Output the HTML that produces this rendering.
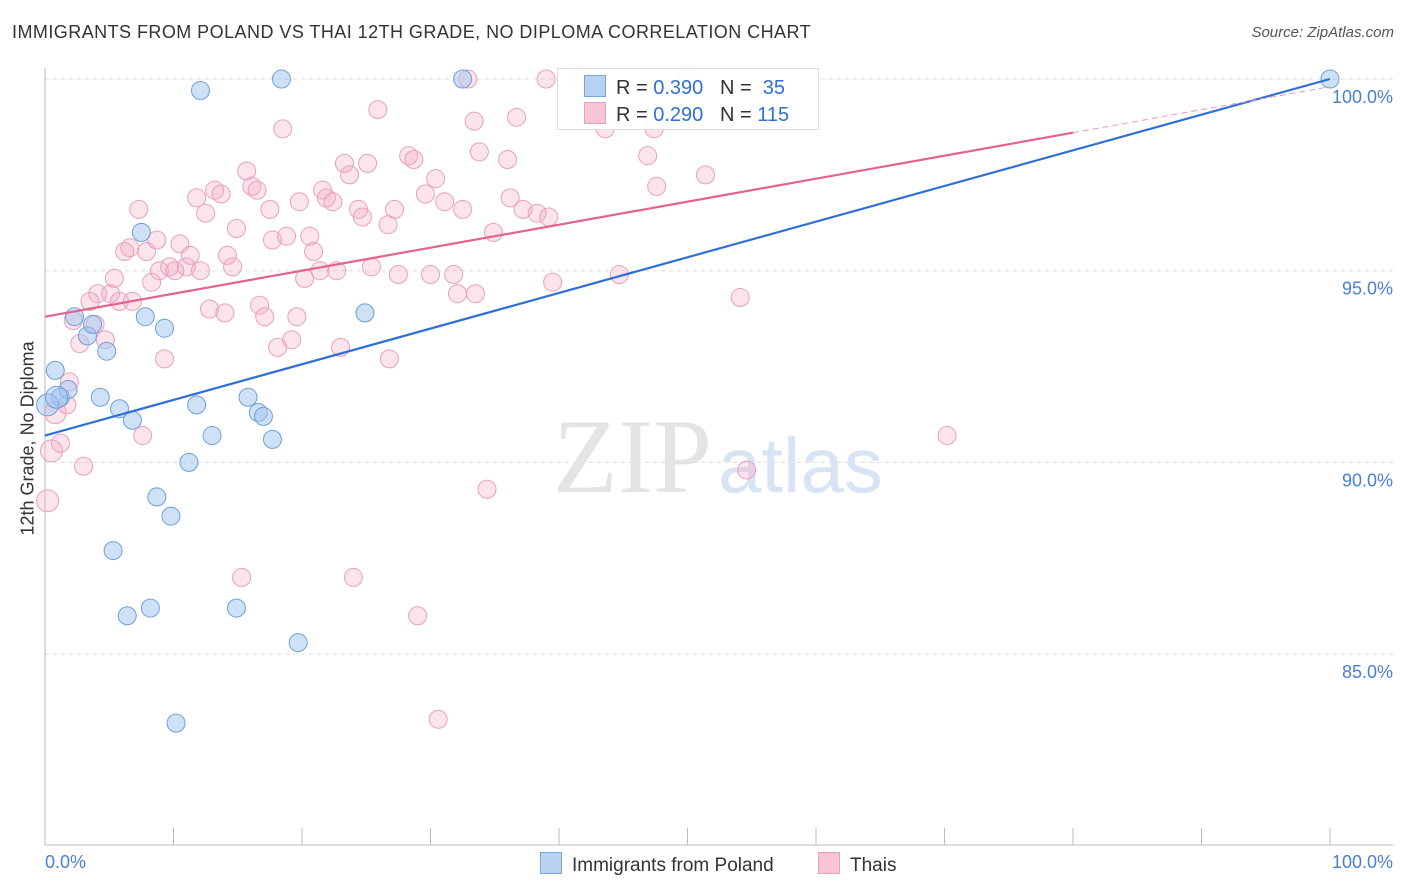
<!DOCTYPE html>
<html><head><meta charset="utf-8">
<style>
body{margin:0;background:#fff;font-family:"Liberation Sans",sans-serif;}
#wrap{position:relative;width:1406px;height:892px;overflow:hidden;}
.t{position:absolute;white-space:nowrap;}
</style></head>
<body>
<div id="wrap">
<div class="t" style="left:12px;top:22px;font-size:18px;color:#333;letter-spacing:0.45px;">IMMIGRANTS FROM POLAND VS THAI 12TH GRADE, NO DIPLOMA CORRELATION CHART</div>
<div class="t" style="right:12px;top:24px;font-size:15px;color:#555;font-style:italic;">Source: ZipAtlas.com</div>
<div class="t" style="left:-52px;top:445px;font-size:18px;color:#333;transform:rotate(-90deg);width:160px;text-align:center;">12th Grade, No Diploma</div>
<svg id="plot" width="1406" height="892" style="position:absolute;left:0;top:0"></svg>
</div>
<script>
const blueX=[0.8,1.2,1.8,2.3,3.3,3.7,4.3,4.8,5.3,5.8,6.4,6.8,7.5,7.8,8.2,8.7,9.3,9.8,10.2,11.2,11.8,12.1,13.0,14.9,15.8,16.6,17.0,17.7,18.4,19.7,24.9,32.5,100,0.2,0.9];
const blueY=[92.4,91.7,91.9,93.8,93.3,93.6,91.7,92.9,87.7,91.4,86.0,91.1,96.0,93.8,86.2,89.1,93.5,88.6,83.2,90.0,91.5,99.7,90.7,86.2,91.7,91.3,91.2,90.6,100,85.3,93.9,100,100,91.5,91.7];
const pinkX=[0.2,0.5,0.8,1.2,1.7,1.9,2.2,2.7,3.0,3.5,3.9,4.1,4.7,5.1,5.4,5.8,6.2,6.6,6.8,7.3,7.6,7.9,8.3,8.7,8.9,9.3,9.7,10.1,10.5,11.0,11.3,11.8,12.1,12.5,12.8,13.2,13.7,14.0,14.2,14.6,14.9,15.3,15.7,16.1,16.5,16.7,17.1,17.5,17.7,18.1,18.5,18.8,19.2,19.6,19.8,20.2,20.6,20.9,21.4,21.6,21.9,22.4,22.7,23.0,23.3,23.7,24.0,24.4,24.7,25.1,25.4,25.9,26.7,26.8,27.2,27.5,28.3,28.7,29.0,29.6,30.0,30.4,30.6,31.1,31.8,32.1,32.5,32.9,33.4,33.5,33.8,34.4,34.9,36.0,36.2,36.7,37.2,38.3,39.0,39.2,39.5,41.5,43.6,44.7,46.9,47.4,47.6,50.0,51.4,54.1,54.6,70.2];
const pinkY=[89.0,90.3,91.3,90.5,91.5,92.1,93.7,93.1,89.9,94.2,93.6,94.4,93.2,94.4,94.8,94.2,95.5,95.6,94.2,96.6,90.7,95.5,94.7,95.8,95.0,92.7,95.1,95.0,95.7,95.1,95.4,96.9,95.0,96.5,94.0,97.1,97.0,93.9,95.4,95.1,96.1,87.0,97.6,97.2,97.1,94.1,93.8,96.6,95.8,93.0,98.7,95.9,93.2,93.8,96.8,94.8,95.9,95.5,95.0,97.1,96.9,96.8,95.0,93.0,97.8,97.5,87.0,96.6,96.4,97.8,95.1,99.2,96.2,92.7,96.6,94.9,98.0,97.9,86.0,97.0,94.9,97.4,83.3,96.8,94.9,94.4,96.6,100,98.9,94.4,98.1,89.3,96.0,97.9,96.9,99.0,96.6,96.5,100,96.4,94.7,100,98.7,94.9,98.0,98.7,97.2,100,97.5,94.3,89.8,90.7];
const blueTrend=[90.7,100];
const pinkTrend=[93.8,99.8];
const yTicks=[100,95,90,85];
const yTickLabels=["100.0%","95.0%","90.0%","85.0%"];

const X0=45,X1=1330,YT=79,PXPER=38.34;
const sx=v=>X0+(X1-X0)*v/100;
const sy=v=>YT+(100-v)*PXPER;
const svg=document.getElementById('plot');
const NS='http://www.w3.org/2000/svg';
function mk(tag,attrs){const e=document.createElementNS(NS,tag);for(const k in attrs)e.setAttribute(k,attrs[k]);svg.appendChild(e);return e;}

yTicks.forEach((t,i)=>{
  const g=mk('line',{x1:X0,x2:1393,y1:sy(t),y2:sy(t),stroke:'#dcdcdc','stroke-dasharray':'4,4','stroke-width':1});
  
  
  const l=mk('text',{x:1393,y:sy(t)+24,'text-anchor':'end','font-size':18,fill:'#4a7fd4','font-family':'Liberation Sans, sans-serif'});
  l.textContent=yTickLabels[i];
  
  
});
let a=mk('line',{x1:X0,x2:X0,y1:68,y2:845,stroke:'#bbb','stroke-width':1});


a=mk('line',{x1:X0,x2:1393,y1:845,y2:845,stroke:'#bbb','stroke-width':1});


for(let i=0;i<=10;i++){
  const tk=mk('line',{x1:sx(i*10),x2:sx(i*10),y1:828,y2:845,stroke:'#bbb','stroke-width':1});
  
  
}
let w=mk('text',{x:553,y:492,'font-size':106,fill:'#e4e4e4','font-family':'Liberation Serif, serif'});
w.textContent='ZIP';


w=mk('text',{x:718,y:492,'font-size':78,fill:'#d8e4f4','font-family':'Liberation Sans, sans-serif'});
w.textContent='atlas';



pinkX.forEach((x,i)=>{
  const c=mk('circle',{cx:sx(x),cy:sy(pinkY[i]),r:i<3?11:9,fill:'rgba(244,170,196,0.32)',stroke:'#eaa0bb','stroke-width':1});
  
  
});
blueX.forEach((x,i)=>{
  const c=mk('circle',{cx:sx(x),cy:sy(blueY[i]),r:i>=33?11:9,fill:'rgba(160,196,240,0.5)',stroke:'#6f9fdc','stroke-width':1});
  
  
});
let tl=mk('line',{x1:sx(0),y1:sy(blueTrend[0]),x2:sx(100),y2:sy(blueTrend[1]),stroke:'#2f6fd6','stroke-width':2.2});


const pAt=v=>pinkTrend[0]+(pinkTrend[1]-pinkTrend[0])*v/100;
tl=mk('line',{x1:sx(0),y1:sy(pAt(0)),x2:sx(80),y2:sy(pAt(80)),stroke:'#e5628f','stroke-width':2.2});


tl=mk('line',{x1:sx(80),y1:sy(pAt(80)),x2:sx(100),y2:sy(pAt(100)),stroke:'#e89ab5','stroke-width':1,'stroke-dasharray':'6,4'});


</script>
<div class="t" style="left:557px;top:68px;width:260px;height:60px;background:rgba(255,255,255,0.9);border:1px solid #ddd;"></div>
<div class="t" style="left:584px;top:75px;font-size:20px;color:#333;">
<span style="display:inline-block;width:20px;height:20px;background:#b8d2f4;border:1px solid #7aa6e0;vertical-align:-3px;margin-right:10px"></span>R = <span style="color:#2f6fd6">0.390</span>&nbsp;&nbsp;&nbsp;N = &nbsp;<span style="color:#2f6fd6">35</span></div>
<div class="t" style="left:584px;top:102px;font-size:20px;color:#333;">
<span style="display:inline-block;width:20px;height:20px;background:#f8c4d6;border:1px solid #eaa0bb;vertical-align:-3px;margin-right:10px"></span>R = <span style="color:#2f6fd6">0.290</span>&nbsp;&nbsp;&nbsp;N = <span style="color:#2f6fd6">115</span></div>
<div class="t" style="left:45px;top:852px;font-size:18px;color:#4a7fd4;">0.0%</div>
<div class="t" style="right:13px;top:852px;font-size:18px;color:#4a7fd4;">100.0%</div>
<div class="t" style="left:540px;top:852px;font-size:19px;color:#333;">
<span style="display:inline-block;width:20px;height:20px;background:#b8d2f4;border:1px solid #7aa6e0;vertical-align:-3px;margin-right:10px"></span>Immigrants from Poland</div>
<div class="t" style="left:818px;top:852px;font-size:19px;color:#333;">
<span style="display:inline-block;width:20px;height:20px;background:#f8c4d6;border:1px solid #eaa0bb;vertical-align:-3px;margin-right:10px"></span>Thais</div>
</body></html>
